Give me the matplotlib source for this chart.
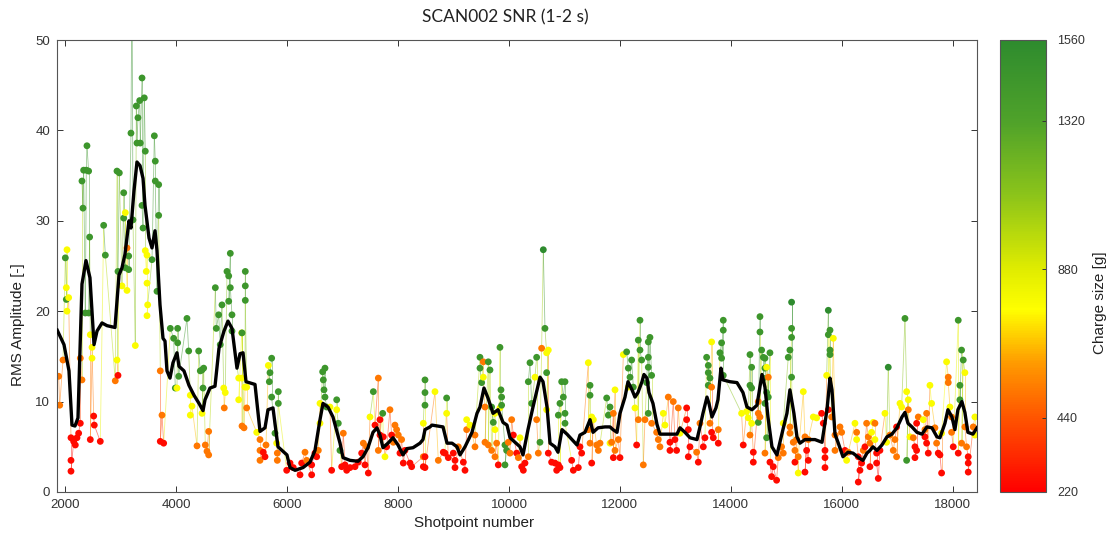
import numpy as np
import matplotlib.pyplot as plt
from matplotlib.colors import LinearSegmentedColormap, Normalize
from matplotlib.collections import LineCollection
import matplotlib.cm as cm

plt.rcParams['font.family'] = ['Liberation Sans', 'DejaVu Sans']

# charge size classes [g]
R, O, Y, G, D = 250, 520, 780, 1450, 1560

# (shotpoint, RMS amplitude, charge size), by region
pts_a = [
    (1886, 12.8, O), (1905, 9.6, O), (1964, 14.6, O), (2006, 25.9, G), (2036, 26.8, Y),
    (2024, 22.6, Y), (2024, 21.3, G), (2036, 20.0, Y), (2066, 21.5, Y), (2108, 6.0, R),
    (2108, 3.5, R), (2108, 2.3, R), (2156, 5.6, R), (2186, 5.2, R), (2216, 6.0, R),
    (2246, 6.5, R), (2276, 7.6, R), (2306, 12.4, O), (2276, 14.8, O), (2306, 34.4, G),
    (2324, 31.4, G), (2336, 35.6, G), (2384, 35.6, G), (2396, 38.3, G), (2426, 35.5, G),
    (2444, 28.2, G), (2366, 19.8, G), (2426, 19.8, G), (2456, 17.4, Y), (2487, 14.8, Y),
    (2517, 8.4, R), (2528, 7.4, R), (2456, 5.8, R), (2487, 16.0, Y), (2636, 5.6, R),
    (2697, 29.5, G), (2727, 26.2, G), (2937, 35.5, G), (2979, 35.3, G), (3058, 33.1, G),
    (2906, 12.3, O), (2955, 12.9, R), (2937, 14.6, Y), (2955, 24.4, G), (3027, 22.8, Y),
    (3058, 30.3, G), (3087, 24.8, G), (3117, 22.3, Y), (3087, 30.9, Y), (3117, 27.0, O),
    (3148, 26.1, G), (3148, 24.6, G), (3267, 16.2, Y), (3189, 39.7, G), (3207, 58.0, D),
    (3225, 30.1, G), (3285, 42.7, G), (3315, 41.4, G), (3346, 43.3, G), (3388, 45.8, G),
    (3429, 43.6, G), (3297, 38.6, G), (3357, 38.6, G), (3447, 37.7, G), (3388, 31.7, G),
    (3406, 29.2, G), (3447, 26.7, Y), (3478, 26.2, Y), (3465, 24.4, Y), (3478, 23.1, Y),
    (3490, 20.7, Y), (3478, 19.5, Y), (3568, 25.7, G), (3610, 39.4, G), (3627, 36.6, G),
    (3627, 34.4, G), (3688, 34.0, G), (3688, 30.6, G), (3658, 22.2, G), (3717, 13.4, O),
    (3748, 8.5, O), (3717, 5.6, R), (3778, 5.4, R), (3898, 18.1, G), (3958, 17.0, G),
    (4030, 18.1, G), (4030, 16.5, G), (3988, 11.5, G), (4049, 12.8, G), (4018, 11.5, Y),
    (4198, 19.2, G), (4229, 15.6, G), (4258, 10.7, Y), (4288, 9.5, Y), (4258, 8.5, Y),
    (4379, 5.1, O), (4409, 15.6, G), (4438, 13.4, G), (4469, 13.5, G), (4499, 13.7, G),
    (4487, 11.5, G), (4469, 8.7, Y), (4528, 5.2, O), (4559, 4.5, O), (4589, 6.7, O),
    (4589, 4.1, O), (4709, 22.6, G), (4726, 18.1, G), (4769, 19.6, G), (4798, 16.3, G),
    (4829, 20.7, G), (4860, 11.5, Y), (4870, 9.3, O), (4888, 11.0, Y), (4919, 24.4, G),
    (4950, 23.9, G), (4979, 26.4, G), (4950, 21.1, G), (4979, 22.6, G), (5009, 19.6, G),
    (5009, 17.8, G), (5130, 12.6, Y), (5130, 10.2, Y), (5190, 7.3, O), (5190, 17.6, G),
    (5249, 24.4, G), (5249, 22.8, G), (5249, 21.2, G),
]

pts_b = [
    (5184, 17.6, Y), (5184, 12.6, Y), (5244, 11.6, Y), (5274, 11.6, Y), (5274, 9.3, O),
    (5226, 7.1, O), (5455, 6.6, Y), (5514, 5.8, O), (5514, 4.6, O), (5514, 3.5, O),
    (5573, 4.4, R), (5604, 3.9, R), (5622, 5.2, O), (5664, 14.0, Y), (5694, 13.2, G),
    (5724, 14.8, G), (5682, 12.2, G), (5724, 10.5, G), (5844, 11.1, G), (5844, 9.8, G),
    (5784, 6.5, G), (5814, 5.4, Y), (5826, 4.3, O), (5826, 3.5, O), (5995, 2.4, R),
    (6055, 3.2, R), (6114, 2.7, R), (6235, 1.9, R), (6265, 3.2, R), (6325, 4.4, O),
    (6355, 3.5, O), (6445, 1.9, R), (6445, 3.0, R), (6505, 4.3, R), (6535, 3.9, R),
    (6565, 4.6, O), (6595, 9.8, Y), (6643, 13.3, G), (6685, 13.7, G), (6655, 12.4, G),
    (6667, 11.3, G), (6685, 10.5, G), (6715, 9.4, G), (6595, 7.6, Y), (6805, 2.4, R),
    (6775, 9.4, Y), (6896, 10.2, G), (6896, 9.1, Y), (6925, 7.6, G), (6955, 4.6, G),
    (7015, 6.5, O), (6986, 2.8, R), (7046, 3.0, R), (7076, 2.4, R), (7136, 2.7, R),
    (7226, 2.8, R), (7285, 3.3, R), (7346, 4.3, R), (7376, 5.4, O), (7406, 3.0, R),
    (7466, 2.1, R), (7436, 5.0, O), (7496, 8.3, Y), (7556, 11.1, G), (7586, 7.4, R),
    (7646, 12.6, O), (7676, 8.0, R), (7676, 6.3, R), (7646, 4.6, O), (7725, 8.7, G),
    (7736, 6.1, R), (7766, 3.9, Y), (7796, 5.0, R), (7856, 9.1, O), (7886, 6.3, R),
    (7916, 5.5, O), (7946, 7.4, O), (7976, 6.9, O), (8006, 6.3, O), (8036, 4.3, R),
    (8066, 5.8, O), (8096, 3.2, R), (8126, 4.6, R), (8217, 3.2, R), (8247, 2.8, R),
    (8457, 3.9, O), (8457, 2.8, R), (8487, 12.4, G), (8487, 11.0, G), (8487, 9.6, G),
    (8457, 7.6, Y),
]

pts_c = [
    (8487, 3.9, R), (8487, 2.7, R), (8667, 11.1, Y), (8727, 3.5, O), (8817, 4.4, R),
    (8847, 4.3, R), (8877, 10.4, G), (8877, 8.7, Y), (8907, 3.8, R), (8997, 4.3, R),
    (9028, 3.5, R), (9028, 2.7, R), (9088, 5.0, O), (9178, 3.3, R), (9208, 2.4, R),
    (9238, 6.9, O), (9238, 8.0, Y), (9298, 7.4, Y), (9388, 5.0, O), (9388, 6.3, O),
    (9478, 14.9, G), (9538, 14.4, O), (9478, 13.7, G), (9508, 12.1, G), (9538, 12.7, Y),
    (9628, 14.4, G), (9658, 13.5, G), (9568, 9.4, O), (9568, 5.5, O), (9628, 5.2, O),
    (9688, 4.6, O), (9688, 9.4, G), (9748, 8.7, Y), (9718, 7.7, G), (9748, 6.9, Y),
    (9778, 5.4, O), (9748, 3.9, O), (9838, 16.0, G), (9856, 11.3, G), (9868, 10.5, G),
    (9868, 9.6, G), (9838, 9.3, Y), (9808, 3.0, R), (9928, 5.2, G), (9958, 4.6, G),
    (9928, 3.0, G), (9988, 5.5, O), (10019, 4.3, O), (10049, 8.0, O), (10079, 6.3, R),
    (10139, 4.3, R), (10169, 3.8, O), (10199, 6.0, Y), (10229, 2.8, R), (10259, 2.4, R),
    (10289, 3.2, R), (10349, 3.9, O), (10379, 14.3, G), (10349, 12.2, G), (10409, 9.8, G),
    (10469, 12.7, Y), (10499, 14.9, G), (10499, 8.0, O), (10529, 4.3, O), (10559, 5.5, G),
    (10589, 15.9, O), (10619, 26.8, D), (10649, 18.1, G), (10679, 15.4, Y), (10709, 15.7, Y),
    (10679, 13.2, G), (10679, 9.1, Y), (10709, 4.3, R), (10769, 3.3, R), (10830, 3.2, R),
    (10860, 2.4, R), (10890, 3.0, R), (10919, 9.8, G), (10890, 8.5, G), (10950, 12.2, G),
    (11010, 12.2, G), (10980, 10.5, G), (11010, 8.7, G), (11010, 7.6, G), (10919, 2.7, R),
    (11130, 3.5, R), (11160, 2.4, R), (11250, 2.7, R), (11280, 5.0, R), (11310, 4.3, R),
    (11430, 14.3, Y), (11461, 11.8, G), (11461, 10.7, G), (11491, 8.3, Y), (11521, 8.0, Y),
    (11430, 6.9, O), (11461, 5.4, O), (11491, 3.2, R), (11581, 5.2, O), (11611, 4.6, O),
    (11641, 5.4, O), (11761, 10.4, G), (11821, 9.4, G), (11791, 8.5, G), (11821, 5.4, Y),
]

pts_d = [
    (11881, 8.7, O), (11911, 11.3, Y), (11851, 5.5, O), (11911, 4.6, O), (11881, 3.8, R),
    (11971, 5.8, O), (12001, 3.8, R), (12061, 15.2, Y), (12121, 15.5, G), (12151, 13.7, G),
    (12181, 12.7, G), (12211, 14.6, G), (12151, 11.6, Y), (12241, 11.6, G), (12271, 9.3, Y),
    (12331, 16.8, G), (12361, 19.0, G), (12361, 15.7, G), (12391, 14.6, G), (12331, 8.0, O),
    (12301, 5.2, R), (12421, 3.0, O), (12451, 8.0, O), (12481, 12.1, G), (12511, 16.6, G),
    (12511, 14.9, G), (12511, 13.8, G), (12541, 17.1, G), (12571, 12.9, G), (12511, 8.7, G),
    (12571, 7.6, O), (12661, 6.6, O), (12691, 5.8, O), (12721, 5.0, O), (12781, 8.7, Y),
    (12811, 7.4, Y), (12871, 10.5, O), (12901, 5.5, R), (12901, 4.6, R), (12961, 10.0, O),
    (12991, 5.8, R), (13021, 4.6, R), (13051, 9.3, O), (13082, 6.5, Y), (13202, 9.3, R),
    (13202, 8.0, R), (13232, 6.9, R), (13262, 5.0, R), (13232, 3.9, R), (13382, 4.4, O),
    (13412, 3.3, R), (13442, 7.6, O), (13502, 5.0, R), (13532, 6.0, R), (13562, 14.9, G),
    (13592, 14.0, G), (13592, 13.2, G), (13622, 12.6, G), (13592, 11.8, G), (13652, 16.6, Y),
    (13652, 11.6, O), (13622, 7.6, O), (13652, 6.6, R), (13682, 6.0, R), (13772, 6.9, O),
    (13772, 5.4, R), (13802, 15.4, G), (13832, 16.5, G), (13862, 19.0, G), (13862, 17.9, G),
    (13832, 14.8, G), (13862, 12.9, G), (14192, 8.7, Y), (14222, 5.2, R), (14282, 8.9, Y),
    (14312, 8.2, Y), (14343, 15.2, G), (14373, 13.8, G), (14343, 11.8, G), (14373, 11.5, G),
    (14343, 6.3, O), (14403, 4.4, R), (14403, 3.3, R), (14373, 7.6, Y), (14493, 10.0, O),
    (14493, 8.7, O), (14523, 19.4, G), (14523, 17.7, G), (14553, 15.7, G), (14583, 14.9, G),
    (14613, 14.8, G), (14583, 12.6, G), (14613, 13.7, G), (14643, 13.8, Y), (14703, 15.4, G),
    (14673, 12.7, O), (14643, 11.0, G), (14613, 9.8, G), (14493, 7.7, G), (14523, 8.3, O),
    (14673, 10.5, G), (14613, 4.3, O), (14643, 6.0, G), (14703, 3.3, R), (14763, 2.8, R),
    (14733, 1.7, R), (14823, 1.3, R), (14853, 3.8, O), (14913, 5.0, O), (14943, 4.3, O),
    (14943, 7.6, Y), (15033, 14.9, G), (15063, 15.7, G), (15093, 18.1, G), (15093, 17.1, G),
    (15093, 21.0, D), (15093, 12.7, G), (15063, 7.2, O), (15063, 6.5, O), (15123, 5.5, O),
    (15153, 4.6, O), (15153, 3.3, R), (15213, 2.1, Y),
]

pts_e = [
    (15183, 5.8, O), (15213, 3.9, O), (15304, 11.1, Y), (15334, 6.1, O), (15364, 4.6, R),
    (15394, 3.5, R), (15394, 5.8, O), (15334, 2.2, R), (15484, 8.3, Y), (15544, 8.2, Y),
    (15634, 8.7, R), (15664, 7.6, R), (15695, 4.6, R), (15695, 3.8, R), (15695, 2.7, R),
    (15755, 20.1, D), (15785, 17.9, G), (15755, 17.4, G), (15785, 15.7, G), (15785, 15.2, G),
    (15845, 17.0, Y), (15725, 12.9, Y), (15755, 9.1, R), (15815, 8.3, O), (15875, 6.3, O),
    (15875, 4.6, O), (15965, 7.2, O), (15995, 6.6, O), (16055, 4.6, R), (16085, 3.5, Y),
    (16115, 4.4, O), (16235, 7.6, Y), (16265, 6.6, O), (16265, 5.8, Y), (16295, 3.9, R),
    (16325, 2.4, R), (16295, 1.1, R), (16355, 3.2, R), (16385, 4.6, O), (16415, 5.0, R),
    (16445, 7.6, O), (16475, 6.1, O), (16505, 5.4, O), (16505, 2.8, R), (16535, 6.6, Y),
    (16565, 7.7, Y), (16595, 7.6, O), (16595, 5.8, Y), (16625, 4.3, R), (16625, 3.2, R),
    (16655, 1.5, R), (16685, 4.6, R), (16775, 8.7, Y), (16805, 5.5, Y), (16835, 13.8, D),
    (16865, 6.3, O), (16925, 4.6, O), (16955, 5.8, O), (16985, 7.2, R), (16985, 3.9, O),
    (17046, 9.8, Y), (17076, 9.4, Y), (17136, 19.2, G), (17166, 11.1, Y), (17196, 10.2, Y),
    (17166, 3.5, G), (17196, 9.1, O), (17226, 6.1, Y), (17286, 6.0, O), (17316, 5.0, R),
    (17316, 3.8, R), (17346, 4.6, R), (17346, 7.6, R), (17376, 8.3, O), (17466, 8.0, Y),
    (17496, 6.9, O), (17526, 8.7, O), (17496, 6.1, R), (17526, 5.4, R), (17556, 4.3, R),
    (17586, 11.8, Y), (17616, 9.8, Y), (17676, 7.1, O), (17706, 5.4, O), (17736, 4.3, R),
    (17766, 4.1, R), (17796, 2.1, R), (17796, 6.5, Y), (17886, 14.4, Y), (17916, 12.7, O),
    (17916, 12.1, O), (17946, 9.4, Y), (17976, 8.3, O), (17976, 6.6, O), (18006, 5.0, R),
    (18096, 19.0, G), (18156, 15.7, G), (18186, 14.6, G), (18216, 13.2, Y), (18126, 11.8, G),
    (18126, 10.2, G), (18096, 4.3, R), (18156, 5.4, O), (18216, 7.2, O), (18246, 5.0, O),
    (18276, 3.9, R), (18276, 3.2, R), (18276, 2.2, R), (18366, 7.2, O), (18396, 8.3, Y),
    (18396, 6.3, Y),
]

# running mean curve (black)
trend_shot = [
    1860, 1982, 2072, 2126, 2180, 2234, 2306, 2378, 2450, 2523, 2577, 2667, 2757, 2901,
    2973, 3027, 3081, 3153, 3189, 3243, 3297, 3352, 3406, 3442, 3514, 3568, 3622, 3658,
    3712, 3766, 3802, 3838, 3892, 3946, 4018, 4054, 4144, 4234, 4325, 4415, 4487, 4523,
    4613, 4703, 4775, 4865, 4937, 5009, 5099, 5154, 5208, 5262, 5424, 5514, 5604, 5658,
    5748, 5838, 5910, 6000, 6055, 6145, 6289, 6415, 6505, 6595, 6649, 6739, 6829, 6956,
    7010, 7136, 7280, 7370, 7460, 7550, 7622, 7676, 7730, 7820, 7911, 8001, 8091, 8163,
    8271, 8397, 8451, 8487, 8577, 8613, 8812, 8884, 8974, 9064, 9118, 9208, 9334, 9424,
    9478, 9550, 9622, 9713, 9803, 9893, 9965, 10019, 10109, 10199, 10253, 10343, 10433,
    10505, 10560, 10614, 10686, 10740, 10830, 10884, 10956, 11046, 11136, 11226, 11280,
    11370, 11461, 11515, 11605, 11731, 11821, 11875, 11947, 12001, 12091, 12145, 12217,
    12271, 12325, 12397, 12433, 12487, 12523, 12595, 12667, 12721, 12865, 13028, 13082,
    13172, 13262, 13388, 13442, 13496, 13568, 13604, 13658, 13730, 13766, 13820, 13856,
    13983, 14109, 14217, 14289, 14379, 14469, 14559, 14613, 14667, 14739, 14829, 14883,
    14937, 15009, 15063, 15135, 15190, 15244, 15334, 15514, 15641, 15731, 15785, 15821,
    15875, 15929, 16019, 16109, 16199, 16325, 16379, 16451, 16505, 16559, 16631, 16721,
    16811, 16901, 16991, 17082, 17136, 17190, 17262, 17352, 17442, 17532, 17622, 17712,
    17766, 17856, 17910, 17982, 18036, 18090, 18162, 18216, 18270, 18360, 18434,
]
trend_rms = [
    17.9, 16.3, 13.4, 7.4, 7.3, 8.2, 23.0, 25.6, 23.7, 16.3, 17.8, 18.7, 18.4, 18.2,
    24.0, 24.8, 26.3, 30.0, 29.2, 33.3, 36.5, 36.1, 34.7, 31.7, 28.1, 27.0, 28.9, 26.7,
    20.7, 17.0, 16.7, 13.4, 12.6, 14.3, 15.4, 13.9, 13.4, 11.8, 10.7, 9.8, 9.0, 10.2,
    11.5, 11.7, 15.9, 17.8, 18.9, 18.1, 13.7, 15.3, 15.4, 12.2, 11.9, 6.7, 7.1, 9.1,
    9.3, 5.0, 4.6, 4.1, 2.7, 2.4, 2.7, 3.3, 4.6, 8.0, 9.8, 9.4, 8.3, 5.4,
    3.8, 3.5, 3.4, 3.9, 4.9, 6.6, 7.1, 6.3, 4.9, 5.4, 6.0, 5.2, 4.1, 4.8,
    4.9, 5.4, 5.8, 6.9, 7.2, 7.4, 7.2, 5.4, 5.4, 5.0, 4.1, 5.0, 6.6, 8.7,
    9.4, 11.5, 10.4, 8.7, 9.1, 7.7, 7.4, 6.0, 5.5, 5.0, 4.1, 6.9, 9.4,
    11.3, 12.7, 12.2, 9.4, 5.4, 5.0, 4.4, 6.9, 6.4, 5.8, 5.2, 6.3,
    6.6, 8.0, 6.6, 7.1, 7.2, 7.2, 6.9, 6.6, 8.7, 10.5, 12.2, 11.3,
    10.5, 11.0, 12.2, 13.0, 12.6, 11.0, 9.8, 7.5, 6.4, 6.4, 6.4, 7.1,
    6.6, 6.0, 5.8, 7.2, 8.7, 10.5, 9.8, 8.3, 9.3, 10.2, 13.7, 12.4,
    12.2, 12.1, 11.0, 9.4, 9.1, 9.6, 13.0, 11.6, 8.3, 5.0, 4.1, 5.5,
    6.9, 8.7, 11.3, 8.7, 6.1, 5.4, 5.8, 5.8, 5.5, 9.1, 12.6, 11.3,
    6.4, 5.5, 3.9, 4.4, 4.3, 3.7, 3.5, 4.3, 4.6, 5.0, 4.6, 5.2,
    6.1, 6.4, 7.1, 8.3, 8.8, 7.6, 7.2, 6.6, 6.4, 7.2, 7.1, 6.1,
    6.0, 7.6, 9.1, 8.3, 6.9, 9.1, 10.0, 8.8, 6.6, 6.4, 7.1,
]

cbar_ticks = [220, 440, 880, 1320, 1560]

cmap = LinearSegmentedColormap.from_list('charge', [
    (0.0, '#ff0000'), (0.164, '#ff5500'), (0.284, '#ff9a00'), (0.403, '#ffff00'),
    (0.493, '#e0ec00'), (0.657, '#8cc41a'), (0.821, '#4fa22a'), (1.0, '#2e8b2e')])
norm = Normalize(vmin=220, vmax=1560)

pts = sorted(pts_a + pts_b + pts_c + pts_d + pts_e, key=lambda p: p[0])
shot = np.array([p[0] for p in pts], dtype=float)
rms = np.array([p[1] for p in pts], dtype=float)
charge = np.array([p[2] for p in pts], dtype=float)

fig = plt.figure(figsize=(11.15, 5.39), dpi=100)
ax = fig.add_axes([57 / 1115, 47 / 539, 920 / 1115, 452 / 539])

# thin lines joining consecutive shots
xy = np.column_stack([shot, rms])
segs = np.stack([xy[:-1], xy[1:]], axis=1)
seg_col = cmap(norm((charge[:-1] + charge[1:]) / 2))
seg_col[:, 3] = 0.5
ax.add_collection(LineCollection(segs, colors=seg_col, linewidths=0.6, zorder=1))

ax.scatter(shot, rms, c=charge, cmap=cmap, norm=norm, s=24, linewidths=0, zorder=2)
ax.plot(trend_shot, trend_rms, color='black', lw=2.4, zorder=3)

ax.set_xlim(1856, 18434)
ax.set_ylim(0, 50)
ax.set_xticks(range(2000, 18001, 2000))
ax.set_yticks(range(0, 51, 10))
ax.tick_params(direction='in', top=True, right=True, length=4, width=0.7,
               labelsize=9.5, colors='#333333', pad=5)
for s in ax.spines.values():
    s.set_color('#555555')
    s.set_linewidth(0.8)

fig.text(505 / 1115, 1 - 17 / 539, 'SCAN002 SNR (1-2 s)', ha='center', va='center',
         fontsize=12.5, family=['Lato', 'DejaVu Sans'], color='#222222')
fig.text(474 / 1115, 1 - 523 / 539, 'Shotpoint number', ha='center', va='center',
         fontsize=11, color='#222222')
fig.text(18 / 1115, 1 - 325 / 539, 'RMS Amplitude [-]', ha='center', va='center',
         rotation=90, fontsize=11, color='#222222')

cax = fig.add_axes([1000 / 1115, 47 / 539, 46 / 1115, 452 / 539])
sm = cm.ScalarMappable(norm=norm, cmap=cmap)
cb = fig.colorbar(sm, cax=cax, ticks=cbar_ticks)
cb.ax.tick_params(direction='in', length=3, width=0.7, labelsize=9, colors='#333333', pad=8)
cb.outline.set_edgecolor('#555555')
cb.outline.set_linewidth(0.8)
fig.text(1100 / 1115, 1 - 303 / 539, 'Charge size [g]', ha='center', va='center',
         rotation=90, fontsize=11, color='#222222')

fig.savefig('out.png', dpi=100)
